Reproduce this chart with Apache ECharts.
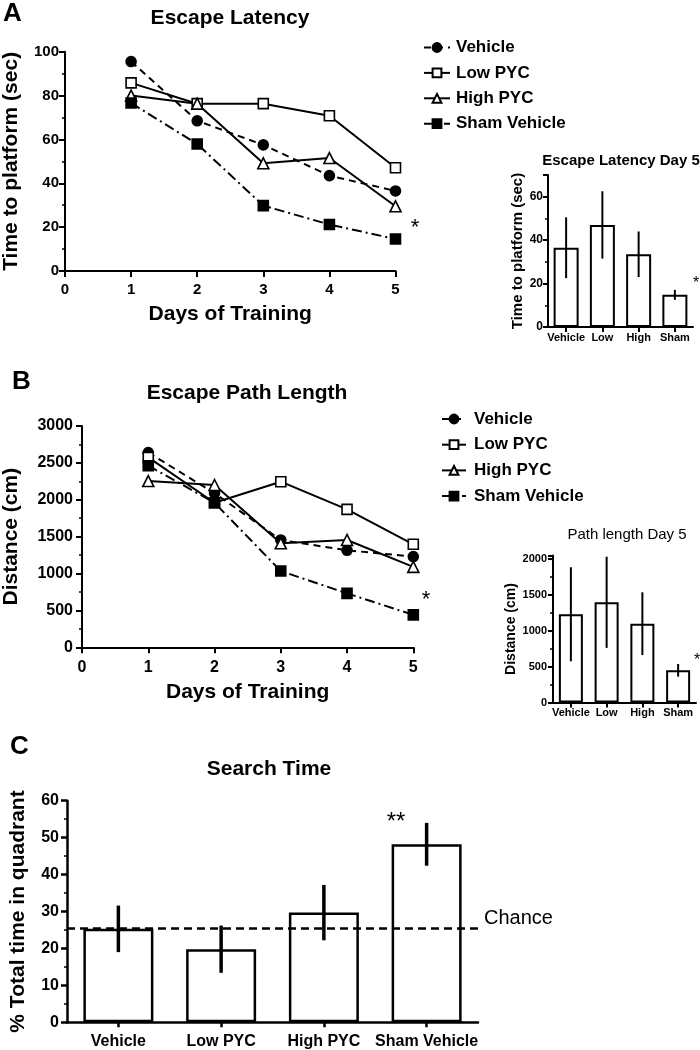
<!DOCTYPE html>
<html>
<head>
<meta charset="utf-8">
<script src="https://cdn.jsdelivr.net/npm/echarts@6/dist/echarts.min.js"></script>
<style>
html,body{margin:0;padding:0;background:#fff;}
#chart{width:700px;height:1050px;}
</style>
</head>
<body>
<div id="chart"></div>
<script>
// ---------- DATA ----------
const seriesNames = ['Vehicle', 'Low PYC', 'High PYC', 'Sham Vehicle'];
const days = [1, 2, 3, 4, 5];
const xTicks = [0, 1, 2, 3, 4, 5];

// Panel A: escape latency (sec)
const latVehicle = [95.5, 68.5, 57.5, 43.5, 36.5];
const latLow     = [85.8, 76.3, 76.3, 70.8, 47.1];
const latHigh    = [80.0, 76.3, 49.1, 51.5, 29.5];
const latSham    = [76.6, 57.9, 29.8, 21.2, 14.6];

// Panel A inset: day 5 latency
const insetCats = ['Vehicle', 'Low', 'High', 'Sham'];
const latDay5Mean = [36.5, 47.0, 33.5, 14.8];
const latDay5Err  = [14.0, 15.5, 10.5, 2.3];

// Panel B: escape path length (cm)
const pathVehicle = [2640, 2090, 1455, 1315, 1230];
const pathLow     = [2575, 1960, 2245, 1870, 1396];
const pathHigh    = [2254, 2200, 1410, 1455, 1090];
const pathSham    = [2462, 1960, 1034, 731, 440];

// Panel B inset: day 5 path length
const pathDay5Mean = [1230, 1397, 1099, 450];
const pathDay5Err  = [655, 635, 437, 88];

// Panel C: search time (% in quadrant)
const searchCats = ['Vehicle', 'Low PYC', 'High PYC', 'Sham Vehicle'];
const searchMean = [25.3, 19.8, 29.7, 48.2];
const searchErr  = [6.3, 6.4, 7.5, 5.8];
const chanceLevel = 25.4;

// ---------- HELPERS ----------
const FONT = "'Liberation Sans', Arial, Helvetica, sans-serif";
const NARROW = "'Liberation Sans Narrow', 'Liberation Sans', Arial, sans-serif";
const K = '#000';
const plain = v => String(v);

function pairs(xs, ys) { return xs.map((x, i) => [x, ys[i]]); }
function errData(mean, err) { return mean.map((m, i) => [i, m - err[i], m + err[i]]); }

function errRender(lw) {
  return function (params, api) {
    const i = api.value(0);
    const lo = api.coord([i, api.value(1)]);
    const hi = api.coord([i, api.value(2)]);
    return {
      type: 'line',
      shape: { x1: lo[0], y1: lo[1], x2: hi[0], y2: hi[1] },
      style: { stroke: K, lineWidth: lw }
    };
  };
}

const styles = {
  'Vehicle':      { symbol: 'circle', size: 10, fill: K, dash: [7, 5] },
  'Low PYC':      { symbol: 'rect', size: 10, fill: '#fff', dash: 'solid' },
  'High PYC':     { symbol: 'triangle', size: 11, fill: '#fff', dash: 'solid' },
  'Sham Vehicle': { symbol: 'rect', size: 10, fill: K, dash: [10, 4, 2, 4] }
};

function lineSeries(name, values, xi) {
  const s = styles[name];
  return {
    type: 'line', name: name, xAxisIndex: xi, yAxisIndex: xi,
    data: pairs(days, values),
    symbol: s.symbol, symbolSize: s.size, showAllSymbol: true,
    itemStyle: { color: s.fill, borderColor: K, borderWidth: 1.6 },
    lineStyle: { color: K, width: 2, type: s.dash },
    emphasis: { disabled: true },
    z: 3
  };
}

function valueAxisX(gi, fs, margin) {
  return {
    type: 'value', gridIndex: gi, min: 0, max: 5, interval: 1,
    axisLine: { show: true, onZero: false, lineStyle: { color: K, width: 2 } },
    axisTick: { show: true, length: 6, lineStyle: { color: K, width: 2 } },
    axisLabel: { color: K, fontFamily: FONT, fontWeight: 'bold', fontSize: fs, margin: margin, formatter: plain },
    splitLine: { show: false },
    name: 'Days of Training', nameLocation: 'middle',
    nameTextStyle: { color: K, fontFamily: FONT, fontWeight: 'bold', fontSize: 21 }
  };
}

function yAxis(gi, opts) {
  return Object.assign({
    type: 'value', gridIndex: gi, min: 0,
    axisLine: { show: true, lineStyle: { color: K, width: 2 } },
    axisTick: { show: true, length: 6, lineStyle: { color: K, width: 2 } },
    minorTick: { show: true, splitNumber: 2, length: 3, lineStyle: { color: K, width: 1.5 } },
    splitLine: { show: false },
    minorSplitLine: { show: false },
    nameLocation: 'middle'
  }, opts);
}

function catAxis(gi, cats, fs, margin, lw) {
  return {
    type: 'category', gridIndex: gi, data: cats,
    axisLine: { show: true, lineStyle: { color: K, width: lw } },
    axisTick: { show: true, alignWithLabel: true, length: 5, lineStyle: { color: K, width: lw } },
    axisLabel: { color: K, fontFamily: FONT, fontWeight: 'bold', fontSize: fs, margin: margin, interval: 0 },
    splitLine: { show: false }
  };
}

function txt(x, y, text, size, weight, align, family) {
  return {
    type: 'text', x: x, y: y, silent: true,
    style: {
      text: text, fill: K, fontFamily: family || FONT, fontSize: size,
      fontWeight: weight || 'normal', textAlign: align || 'center', textVerticalAlign: 'middle'
    }
  };
}

const legendBase = {
  orient: 'vertical', data: seriesNames, selectedMode: false,
  textStyle: { color: K, fontFamily: FONT, fontWeight: 'bold', fontSize: 17 },
  itemHeight: 11
};

// ---------- OPTION ----------
const option = {
  animation: false,
  backgroundColor: '#fff',
  grid: [
    { left: 65, top: 51.7, width: 330.5, height: 219.3 },     // A main
    { left: 548, top: 175, width: 145, height: 152 },         // A inset
    { left: 81, top: 426, width: 332.3, height: 221.3 },      // B main
    { left: 553, top: 555.4, width: 143, height: 147.2 },     // B inset
    { left: 61, top: 800.7, width: 417, height: 221.6 }       // C
  ],
  legend: [
    Object.assign({}, legendBase, {
      left: 418, top: 34, itemWidth: 26, itemGap: 8.4,
      textStyle: Object.assign({}, legendBase.textStyle, { padding: [0, 0, 0, 1] })
    }),
    Object.assign({}, legendBase, {
      left: 436, top: 405.5, itemWidth: 24, itemGap: 8.7,
      textStyle: Object.assign({}, legendBase.textStyle, { padding: [0, 0, 0, 3] })
    })
  ],
  xAxis: [
    Object.assign(valueAxisX(0, 15, 11), { nameGap: 33 }),
    catAxis(1, insetCats, 11, 5, 2),
    Object.assign(valueAxisX(2, 16, 12), { nameGap: 34 }),
    catAxis(3, insetCats, 11, 5, 2),
    catAxis(4, searchCats, 16, 11, 2.5)
  ],
  yAxis: [
    yAxis(0, {
      max: 100, interval: 20,
      axisLabel: { color: K, fontFamily: FONT, fontWeight: 'bold', fontSize: 15, margin: 6, formatter: plain },
      name: 'Time to platform (sec)', nameGap: 43,
      nameTextStyle: { color: K, fontFamily: FONT, fontWeight: 'bold', fontSize: 21 }
    }),
    yAxis(1, {
      max: 70, interval: 20,
      axisTick: { show: true, length: 5, lineStyle: { color: K, width: 2 } },
      axisLabel: { color: K, fontFamily: FONT, fontWeight: 'bold', fontSize: 12, margin: 5, showMaxLabel: false, formatter: plain },
      name: 'Time to platform (sec)', nameGap: 23,
      nameTextStyle: { color: K, fontFamily: FONT, fontWeight: 'bold', fontSize: 15 }
    }),
    yAxis(2, {
      max: 3000, interval: 500,
      axisLabel: { color: K, fontFamily: FONT, fontWeight: 'bold', fontSize: 16, margin: 9, formatter: plain },
      name: 'Distance (cm)', nameGap: 60,
      nameTextStyle: { color: K, fontFamily: FONT, fontWeight: 'bold', fontSize: 21 }
    }),
    yAxis(3, {
      max: 2050, interval: 500,
      axisTick: { show: true, length: 5, lineStyle: { color: K, width: 2 } },
      axisLabel: { color: K, fontFamily: FONT, fontWeight: 'bold', fontSize: 11, margin: 6, showMaxLabel: false, formatter: plain },
      name: 'Distance (cm)', nameGap: 34,
      nameTextStyle: { color: K, fontFamily: FONT, fontWeight: 'bold', fontSize: 14 }
    }),
    yAxis(4, {
      max: 60, interval: 10,
      axisLine: { show: true, lineStyle: { color: K, width: 2.5 } },
      axisTick: { show: true, length: 6, lineStyle: { color: K, width: 2.5 } },
      axisLabel: { color: K, fontFamily: FONT, fontWeight: 'bold', fontSize: 16, margin: 8, formatter: plain },
      name: '% Total time in quadrant', nameGap: 38,
      nameTextStyle: { color: K, fontFamily: FONT, fontWeight: 'bold', fontSize: 21 }
    })
  ],
  series: [
    lineSeries('Vehicle', latVehicle, 0),
    lineSeries('Low PYC', latLow, 0),
    lineSeries('High PYC', latHigh, 0),
    lineSeries('Sham Vehicle', latSham, 0),
    lineSeries('Vehicle', pathVehicle, 2),
    lineSeries('Low PYC', pathLow, 2),
    lineSeries('High PYC', pathHigh, 2),
    lineSeries('Sham Vehicle', pathSham, 2),
    {
      type: 'bar', xAxisIndex: 1, yAxisIndex: 1, data: latDay5Mean, barWidth: 25,
      itemStyle: { color: '#fff', borderColor: K, borderWidth: 2 }, silent: true
    },
    {
      type: 'custom', xAxisIndex: 1, yAxisIndex: 1, data: errData(latDay5Mean, latDay5Err),
      renderItem: errRender(2), encode: { x: 0, y: [1, 2] }, z: 4, silent: true
    },
    {
      type: 'bar', xAxisIndex: 3, yAxisIndex: 3, data: pathDay5Mean, barWidth: 24,
      itemStyle: { color: '#fff', borderColor: K, borderWidth: 2 }, silent: true
    },
    {
      type: 'custom', xAxisIndex: 3, yAxisIndex: 3, data: errData(pathDay5Mean, pathDay5Err),
      renderItem: errRender(2), encode: { x: 0, y: [1, 2] }, z: 4, silent: true
    },
    {
      type: 'bar', xAxisIndex: 4, yAxisIndex: 4, data: searchMean, barWidth: 70,
      itemStyle: { color: '#fff', borderColor: K, borderWidth: 2.5 }, silent: true,
      markLine: {
        silent: true, symbol: 'none', animation: false,
        lineStyle: { color: K, width: 2.5, type: [8, 5] },
        label: { show: false },
        data: [{ yAxis: chanceLevel }]
      }
    },
    {
      type: 'custom', xAxisIndex: 4, yAxisIndex: 4, data: errData(searchMean, searchErr),
      renderItem: errRender(3.5), encode: { x: 0, y: [1, 2] }, z: 4, silent: true
    }
  ],
  graphic: [
    txt(3, 14, 'A', 26, 'bold', 'left'),
    txt(230, 18, 'Escape Latency', 21, 'bold'),
    txt(621, 161, 'Escape Latency Day 5', 15, 'bold'),
    txt(415, 228, '*', 22, 'normal'),
    txt(696, 284, '*', 16, 'normal'),
    txt(12, 382, 'B', 26, 'bold', 'left'),
    txt(247, 393, 'Escape Path Length', 21, 'bold'),
    txt(627, 535, 'Path length Day 5', 15, 'normal'),
    txt(426, 600, '*', 22, 'normal'),
    txt(697, 661, '*', 16, 'normal'),
    txt(10, 747, 'C', 26, 'bold', 'left'),
    txt(269, 769, 'Search Time', 21, 'bold'),
    txt(396, 822, '**', 24, 'normal'),
    txt(484, 918, 'Chance', 20, 'normal', 'left', NARROW)
  ]
};

const chart = echarts.init(document.getElementById('chart'), null, { renderer: 'canvas' });
chart.setOption(option);
</script>
</body>
</html>
